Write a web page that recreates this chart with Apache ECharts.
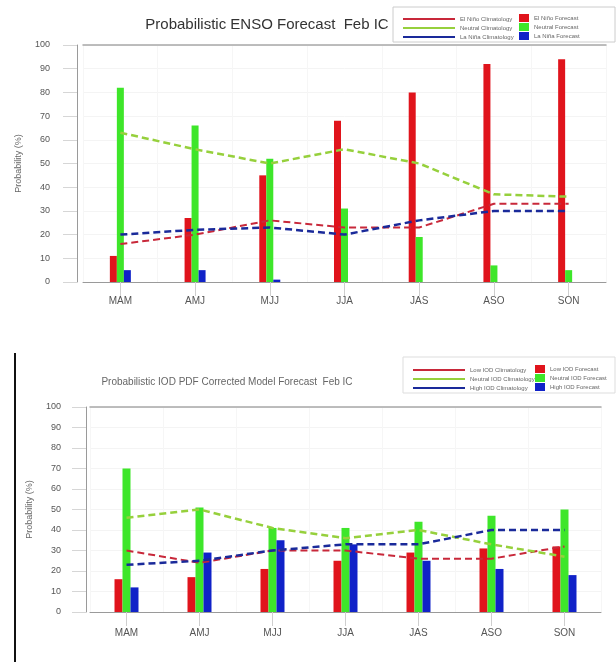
<!DOCTYPE html>
<html>
<head>
<meta charset="utf-8">
<title>Probabilistic ENSO / IOD Forecasts</title>
<script src="https://cdn.jsdelivr.net/npm/echarts@6/dist/echarts.min.js"></script>
<style>
  html, body { margin: 0; padding: 0; background: #fff; }
  #chart { width: 616px; height: 662px; }
</style>
</head>
<body>
<div id="chart"></div>
<script>
// Forecast seasons (shared by both panels)
const seasons = ['MAM', 'AMJ', 'MJJ', 'JJA', 'JAS', 'ASO', 'SON'];
const yTicks = [0, 10, 20, 30, 40, 50, 60, 70, 80, 90, 100];

// ENSO panel: forecast probabilities (%)
const ensoElNinoForecast = [11, 27, 45, 68, 80, 92, 94];
const ensoNeutralForecast = [82, 66, 52, 31, 19, 7, 5];
const ensoLaNinaForecast = [5, 5, 1, 0, 0, 0, 0];
// ENSO panel: climatological probabilities (%)
const ensoElNinoClim = [16, 20, 26, 23, 23, 33, 33];
const ensoNeutralClim = [63, 56, 50, 56, 50, 37, 36];
const ensoLaNinaClim = [20, 22, 23, 20, 26, 30, 30];

// IOD panel: forecast probabilities (%)
const iodLowForecast = [16, 17, 21, 25, 29, 31, 32];
const iodNeutralForecast = [70, 51, 41, 41, 44, 47, 50];
const iodHighForecast = [12, 29, 35, 33, 25, 21, 18];
// IOD panel: climatological probabilities (%)
const iodLowClim = [30, 24, 30, 30, 26, 26, 32];
const iodNeutralClim = [46, 50, 41, 36, 40, 33, 27];
const iodHighClim = [23, 25, 30, 33, 33, 40, 40];

const RED = '#e0141c', GREEN = '#3ee62a', BLUE = '#1022c8';
const RED_LINE = '#c8283a', GREEN_LINE = '#96d03c', BLUE_LINE = '#1a2a9a';
const FONT = '"Liberation Sans", Arial, sans-serif';

const chart = echarts.init(document.getElementById('chart'), null, { renderer: 'canvas' });

function yAxisFor(gridIndex, offset, labelMargin, nameGap) {
  return {
    type: 'value', gridIndex, min: 0, max: 100, interval: 10, offset,
    name: 'Probability (%)', nameLocation: 'middle', nameGap,
    nameTextStyle: { fontSize: 9, color: '#666', fontFamily: FONT },
    axisLine: { show: true, lineStyle: { color: '#9a9a9a', width: 1 } },
    axisTick: { show: true, length: 14, lineStyle: { color: '#d6d6d6' } },
    axisLabel: { fontSize: 9, color: '#555', fontFamily: FONT, margin: labelMargin,
      formatter: v => yTicks.includes(v) ? String(v) : '' },
    splitLine: { show: true, lineStyle: { color: '#f4f4f4' } }
  };
}

function xAxisFor(gridIndex, margin) {
  return {
    type: 'category', gridIndex, data: seasons, boundaryGap: true,
    axisLine: { show: true, lineStyle: { color: '#9a9a9a' } },
    axisTick: { show: true, alignWithLabel: true, length: 14, inside: false, lineStyle: { color: '#cfcfcf' } },
    axisLabel: { fontSize: 10, color: '#555', fontFamily: FONT, margin },
    splitLine: { show: true, interval: 0, lineStyle: { color: '#f6f6f6' } }
  };
}

function topFrame(gridIndex) {
  return {
    type: 'category', gridIndex, data: seasons, position: 'top',
    axisLine: { show: true, lineStyle: { color: '#a8a8a8', width: 1.5 } },
    axisTick: { show: false }, axisLabel: { show: false }, splitLine: { show: false }
  };
}

function bar(name, data, color, xi, yi, width) {
  return { name, type: 'bar', data, xAxisIndex: xi, yAxisIndex: yi, barWidth: width,
    barGap: '0%', itemStyle: { color }, z: 2 };
}
function clim(name, data, color, xi, yi, width) {
  return { name, type: 'line', data, xAxisIndex: xi, yAxisIndex: yi, symbol: 'none',
    lineStyle: { color, width, type: [7, 4] }, itemStyle: { color }, z: 3 };
}

const legendText = { fontSize: 6, color: '#666', fontFamily: FONT };

const option = {
  animation: false,
  backgroundColor: '#ffffff',
  title: [
    { text: 'Probabilistic ENSO Forecast  Feb IC', left: 262, top: 12, textAlign: 'center',
      textStyle: { fontSize: 15, fontWeight: 'normal', color: '#333', fontFamily: FONT } },
    { text: 'Probabilistic IOD PDF Corrected Model Forecast  Feb IC', left: 222, top: 372, textAlign: 'center',
      textStyle: { fontSize: 10, fontWeight: 'normal', color: '#666', fontFamily: FONT } }
  ],
  legend: [
    { orient: 'vertical', left: 398, top: 11, itemWidth: 52, itemHeight: 2, itemGap: 3,
      textStyle: legendText, icon: 'rect',
      data: ['El Niño Climatology', 'Neutral Climatology', 'La Niña Climatology'] },
    { orient: 'vertical', left: 514, top: 9, itemWidth: 10, itemHeight: 8, itemGap: 1,
      textStyle: legendText, icon: 'rect',
      data: ['El Niño Forecast', 'Neutral Forecast', 'La Niña Forecast'] },
    { orient: 'vertical', left: 408, top: 362, itemWidth: 52, itemHeight: 2, itemGap: 3,
      textStyle: legendText, icon: 'rect',
      data: ['Low IOD Climatology', 'Neutral IOD Climatology', 'High IOD Climatology'] },
    { orient: 'vertical', left: 530, top: 360, itemWidth: 10, itemHeight: 8, itemGap: 1,
      textStyle: legendText, icon: 'rect',
      data: ['Low IOD Forecast', 'Neutral IOD Forecast', 'High IOD Forecast'] }
  ],
  grid: [
    { left: 83, top: 45, width: 523, height: 237 },
    { left: 90, top: 407, width: 511, height: 205 }
  ],
  xAxis: [xAxisFor(0, 14), xAxisFor(1, 16), topFrame(0), topFrame(1)],
  yAxis: [yAxisFor(0, 6, 27, 54), yAxisFor(1, 4, 25, 52)],
  series: [
    bar('El Niño Forecast', ensoElNinoForecast, RED, 0, 0, 7),
    bar('Neutral Forecast', ensoNeutralForecast, GREEN, 0, 0, 7),
    bar('La Niña Forecast', ensoLaNinaForecast, BLUE, 0, 0, 7),
    clim('El Niño Climatology', ensoElNinoClim, RED_LINE, 0, 0, 2),
    clim('Neutral Climatology', ensoNeutralClim, GREEN_LINE, 0, 0, 2.5),
    clim('La Niña Climatology', ensoLaNinaClim, BLUE_LINE, 0, 0, 2.5),

    bar('Low IOD Forecast', iodLowForecast, RED, 1, 1, 8),
    bar('Neutral IOD Forecast', iodNeutralForecast, GREEN, 1, 1, 8),
    bar('High IOD Forecast', iodHighForecast, BLUE, 1, 1, 8),
    clim('Low IOD Climatology', iodLowClim, RED_LINE, 1, 1, 2),
    clim('Neutral IOD Climatology', iodNeutralClim, GREEN_LINE, 1, 1, 2.5),
    clim('High IOD Climatology', iodHighClim, BLUE_LINE, 1, 1, 2.5)
  ],
  graphic: [
    // legend boxes
    { type: 'rect', shape: { x: 393, y: 7, width: 222, height: 35 },
      style: { fill: 'none', stroke: '#cccccc', lineWidth: 1 }, silent: true },
    { type: 'rect', shape: { x: 403, y: 357, width: 212, height: 36 },
      style: { fill: 'none', stroke: '#dddddd', lineWidth: 1 }, silent: true },
    // left frame edge of the lower figure
    { type: 'line', shape: { x1: 15, y1: 353, x2: 15, y2: 662 },
      style: { stroke: '#111', lineWidth: 2 }, silent: true }
  ]
};

chart.setOption(option);
</script>
</body>
</html>
